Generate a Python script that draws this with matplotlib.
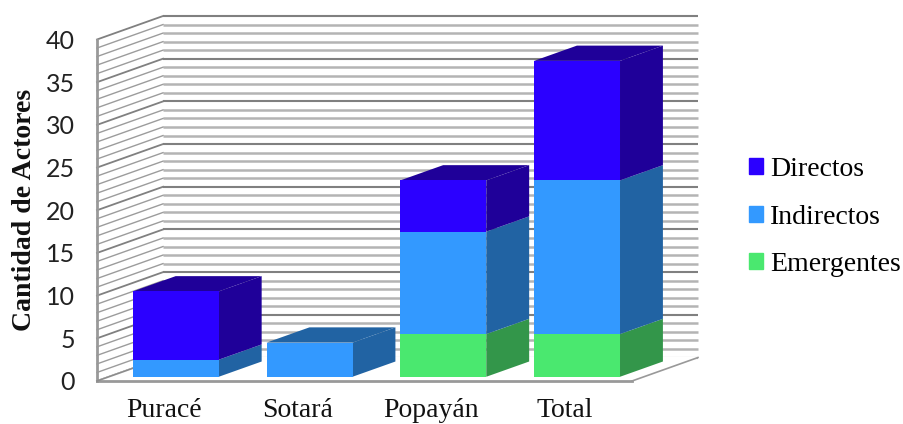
import matplotlib
matplotlib.use("Agg")
import matplotlib.pyplot as plt
from matplotlib.patches import Patch

categories = ["Puracé", "Sotará", "Popayán", "Total"]
emergentes = [0, 0, 5, 5]
indirectos = [2, 4, 12, 18]
directos = [8, 0, 6, 14]
y_ticks = [0, 5, 10, 15, 20, 25, 30, 35, 40]

series = [
    ("Emergentes", emergentes, "#4AE86F", "#33964A"),
    ("Indirectos", indirectos, "#3399FF", "#2163A3"),
    ("Directos", directos, "#2B00FF", "#1F0099"),
]

# depth of the fake 3d box, in data units
DX = 0.4935
DY = 2.75
bar_w = 0.643
bar_start = 0.18
bar_depth = 0.65

fig = plt.figure(figsize=(9.04, 4.24), dpi=100)
ax = fig.add_axes([97 / 904, (424 - 381) / 424, 535 / 904, 341.5 / 424])
ax.set_xlim(-0.5, 3.5)
ax.set_ylim(0, 40)


def project(x, y, d):
    return x + d * DX, y + d * DY


# walls
for v in range(0, 41):
    major = v % 5 == 0
    col = "#808080" if major else "#B4B4B4"
    lw = 1.5 if major else 1.8
    x0, y0 = project(-0.5, v, 1)
    x1, y1 = project(3.5, v, 1)
    ax.plot([x0, x1], [y0, y1], color=col, lw=lw, clip_on=False, zorder=1, solid_capstyle="butt")
    ax.plot([-0.5, x0], [v, y0], color="#808080" if major else "#9C9C9C", lw=1.3 if major else 1.0,
            clip_on=False, zorder=1)

# floor
fx, fy = project(3.5, 0, 1)
ax.fill([-0.5, 3.5, fx, project(-0.5, 0, 1)[0]], [0, 0, fy, fy], color="white", zorder=1.5, clip_on=False)
ax.plot([-0.5, -0.5], [0, 40], color="#999999", lw=2, clip_on=False, zorder=2)
ax.plot([-0.5, 3.5], [0, 0], color="#999999", lw=2, clip_on=False, zorder=2)
ax.plot([3.5, fx], [0, fy], color="#999999", lw=1.2, clip_on=False, zorder=2)
ax.plot([-0.5, project(-0.5, 0, 1)[0]], [0, fy], color="#8C8C8C", lw=1.2, clip_on=False, zorder=2)

# stacked boxes
for i in range(len(categories)):
    left = i - bar_w / 2 + bar_start * DX
    right = left + bar_w
    base = bar_start * DY
    top_side = None
    for name, vals, face, side in series:
        h = vals[i]
        if h == 0:
            continue
        ddx, ddy = bar_depth * DX, bar_depth * DY
        ax.fill([left, right, right, left], [base, base, base + h, base + h], color=face, lw=0, zorder=4, clip_on=False)
        ax.fill([right, right + ddx, right + ddx, right],
                [base, base + ddy, base + h + ddy, base + h], color=side, lw=0, zorder=3, clip_on=False)
        base += h
        top_side = side
    ax.fill([left, right, right + ddx, left + ddx], [base, base, base + ddy, base + ddy],
            color=top_side, lw=0, zorder=3, clip_on=False)

for s in ax.spines.values():
    s.set_visible(False)
ax.patch.set_visible(False)
ax.set_xticks(range(len(categories)))
ax.set_xticklabels(categories, family="Liberation Serif", fontsize=20, color="#111111")
ax.set_yticks(y_ticks)
ax.set_yticklabels([str(v) for v in y_ticks], family="Lato", fontsize=18, color="#222222")
ax.tick_params(axis="both", length=0)
ax.tick_params(axis="x", pad=12.5)
ax.tick_params(axis="y", pad=16)
ax.set_ylabel("Cantidad de Actores", family="Liberation Serif", fontweight="bold", fontsize=20, color="#111111")
ax.yaxis.set_label_coords(-(97 - 37) / 535, 0.5)

handles = [Patch(color=s[2], label=s[0]) for s in reversed(series)]
fig.legend(handles=handles, loc="center left", bbox_to_anchor=(749 / 904, (424 - 217) / 424), frameon=False,
           prop={"family": "Liberation Serif", "size": 20}, handlelength=0.5, handleheight=0.5,
           handletextpad=0.25, labelspacing=0.82, borderpad=0, borderaxespad=0)

fig.savefig("out.png", dpi=100)
